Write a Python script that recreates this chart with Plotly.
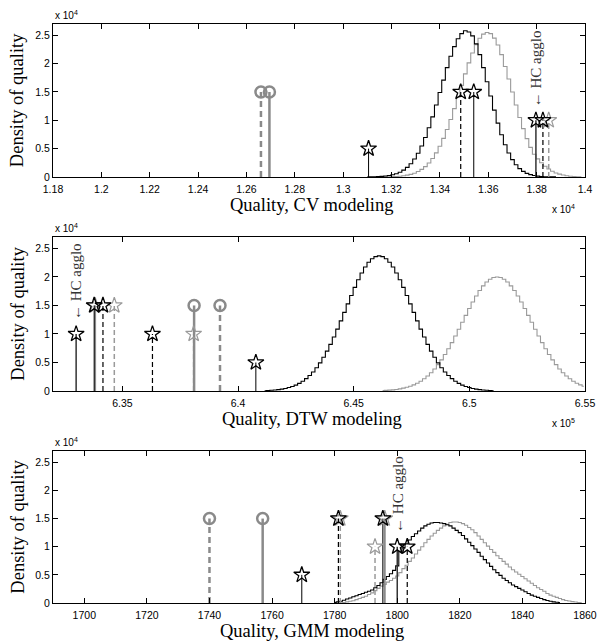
import plotly.graph_objects as go

# ---------------- data ----------------
# Histograms (bin centres start, bin width, heights in units of 1e4)
CV_BLACK_START, CV_BLACK_W = 1.3100, 0.0015
CV_BLACK_H = [0.001, 0.002, 0.004, 0.006, 0.010, 0.016, 0.025, 0.038, 0.057, 0.084,
              0.120, 0.170, 0.234, 0.317, 0.420, 0.547, 0.696, 0.868, 1.06, 1.27,
              1.49, 1.71, 1.93, 2.13, 2.30, 2.44, 2.53, 2.58, 2.56, 2.49,
              2.35, 2.16, 1.93, 1.68, 1.43, 1.18, 0.951, 0.745, 0.569, 0.423,
              0.306, 0.215, 0.148, 0.099, 0.064, 0.041, 0.025, 0.015, 0.009, 0.005,
              0.003, 0.001, 0.001]
CV_GRAY_START, CV_GRAY_W = 1.3160, 0.0015
CV_GRAY_H = [0.001, 0.002, 0.003, 0.006, 0.009, 0.014, 0.021, 0.032, 0.046, 0.067,
             0.096, 0.134, 0.183, 0.247, 0.327, 0.425, 0.543, 0.681, 0.839, 1.015,
             1.207, 1.409, 1.616, 1.820, 2.014, 2.188, 2.335, 2.448, 2.521, 2.55,
             2.53, 2.45, 2.33, 2.16, 1.95, 1.73, 1.50, 1.27, 1.05, 0.853,
             0.676, 0.523, 0.40, 0.32, 0.25, 0.19, 0.14, 0.10, 0.07, 0.05,
             0.035, 0.022, 0.014, 0.008, 0.004, 0.002]

DTW_BLACK_START, DTW_BLACK_W = 6.4115, 0.0015
DTW_BLACK_H = [0.006, 0.009, 0.013, 0.018, 0.025, 0.034, 0.045, 0.061, 0.080, 0.104,
               0.134, 0.172, 0.217, 0.271, 0.334, 0.409, 0.494, 0.591, 0.699, 0.818,
               0.948, 1.085, 1.229, 1.378, 1.527, 1.675, 1.817, 1.950, 2.069, 2.173,
               2.257, 2.319, 2.357, 2.370, 2.357, 2.319, 2.257, 2.173, 2.069, 1.950,
               1.817, 1.675, 1.527, 1.378, 1.229, 1.085, 0.948, 0.818, 0.699, 0.591,
               0.494, 0.409, 0.334, 0.271, 0.217, 0.172, 0.134, 0.104, 0.080, 0.061,
               0.045, 0.034, 0.025, 0.018, 0.013, 0.009, 0.006]
DTW_GRAY_START, DTW_GRAY_W = 6.4625, 0.0015
DTW_GRAY_H = [0.008, 0.011, 0.015, 0.021, 0.028, 0.038, 0.050, 0.065, 0.084, 0.108,
              0.137, 0.172, 0.214, 0.264, 0.321, 0.387, 0.462, 0.546, 0.639, 0.741,
              0.849, 0.964, 1.083, 1.205, 1.327, 1.446, 1.560, 1.667, 1.762, 1.844,
              1.911, 1.960, 1.990, 2.000, 1.990, 1.960, 1.911, 1.844, 1.762, 1.667,
              1.560, 1.446, 1.327, 1.205, 1.083, 0.964, 0.849, 0.741, 0.639, 0.546,
              0.462, 0.387, 0.321, 0.264, 0.214, 0.172, 0.137, 0.108, 0.084]

GMM_BLACK_START, GMM_BLACK_W = 1780, 1.0
GMM_BLACK_H = [0.01, 0.02, 0.03, 0.05, 0.07, 0.09, 0.11, 0.13, 0.15, 0.17,
               0.19, 0.21, 0.23, 0.27, 0.31, 0.36, 0.42, 0.47, 0.52, 0.58,
               0.66, 0.92, 0.98, 1.05, 1.12, 1.18, 1.23, 1.28, 1.33, 1.37,
               1.40, 1.42, 1.43, 1.43, 1.42, 1.41, 1.39, 1.37, 1.33, 1.29,
               1.25, 1.20, 1.14, 1.08, 1.02, 0.96, 0.90, 0.83, 0.77, 0.71,
               0.65, 0.59, 0.54, 0.49, 0.44, 0.40, 0.36, 0.32, 0.29, 0.26,
               0.23, 0.20, 0.17, 0.14, 0.12, 0.10, 0.08, 0.06, 0.045, 0.03,
               0.02, 0.012, 0.006]
GMM_GRAY_START, GMM_GRAY_W = 1782, 1.0
GMM_GRAY_H = [0.005, 0.01, 0.02, 0.03, 0.04, 0.06, 0.08, 0.10, 0.12, 0.15,
              0.18, 0.22, 0.26, 0.30, 0.33, 0.37, 0.40, 0.44, 0.48, 0.54,
              0.61, 0.67, 0.74, 0.80, 0.87, 0.94, 1.00, 1.07, 1.13, 1.19,
              1.24, 1.29, 1.33, 1.37, 1.40, 1.43, 1.44, 1.44, 1.43, 1.41,
              1.38, 1.34, 1.30, 1.25, 1.19, 1.13, 1.07, 1.01, 0.95, 0.90,
              0.84, 0.79, 0.74, 0.69, 0.64, 0.59, 0.55, 0.51, 0.47, 0.43,
              0.39, 0.35, 0.31, 0.27, 0.24, 0.21, 0.17, 0.14, 0.12, 0.10,
              0.08, 0.06, 0.045, 0.035, 0.025, 0.017, 0.01, 0.005]

# Method markers (x in axis units, y in units of 1e4)
CV_CIRC_SOLID_X, CV_CIRC_SOLID_Y = [1.2695], [1.5]
CV_CIRC_DASH_X, CV_CIRC_DASH_Y = [1.2660], [1.5]
CV_STAR_SOLID_X, CV_STAR_SOLID_Y = [1.3105, 1.3540], [0.5, 1.5]
CV_STAR_DASH_X, CV_STAR_DASH_Y = [1.3486, 1.3826], [1.5, 1.0]
CV_GSTAR_DASH_X, CV_GSTAR_DASH_Y = [1.3850], [1.0]
CV_GSTAR_SOLID_X, CV_GSTAR_SOLID_Y = [], []
CV_HC_X, CV_HC_Y = [1.3797], [1.0]

DTW_CIRC_SOLID_X, DTW_CIRC_SOLID_Y = [6.3810], [1.5]
DTW_CIRC_DASH_X, DTW_CIRC_DASH_Y = [6.3922], [1.5]
DTW_STAR_SOLID_X, DTW_STAR_SOLID_Y = [6.3378, 6.4077], [1.5, 0.5]
DTW_STAR_DASH_X, DTW_STAR_DASH_Y = [6.3416, 6.3630], [1.5, 1.0]
DTW_GSTAR_DASH_X, DTW_GSTAR_DASH_Y = [6.3465, 6.3808], [1.5, 1.0]
DTW_GSTAR_SOLID_X, DTW_GSTAR_SOLID_Y = [6.3382], [1.5]
DTW_HC_X, DTW_HC_Y = [6.3300], [1.0]

GMM_CIRC_SOLID_X, GMM_CIRC_SOLID_Y = [1757.0], [1.5]
GMM_CIRC_DASH_X, GMM_CIRC_DASH_Y = [1740.0], [1.5]
GMM_STAR_SOLID_X, GMM_STAR_SOLID_Y = [1769.5, 1795.4], [0.5, 1.5]
GMM_STAR_DASH_X, GMM_STAR_DASH_Y = [1781.2, 1803.2], [1.5, 1.0]
GMM_GSTAR_DASH_X, GMM_GSTAR_DASH_Y = [1781.8, 1792.9], [1.5, 1.0]
GMM_GSTAR_SOLID_X, GMM_GSTAR_SOLID_Y = [1796.0], [1.5]
GMM_HC_X, GMM_HC_Y = [1800.0], [1.0]

# Axis ticks
CV_TICKS = [1.18, 1.20, 1.22, 1.24, 1.26, 1.28, 1.30, 1.32, 1.34, 1.36, 1.38, 1.40]
CV_TICKTEXT = ["1.18", "1.2", "1.22", "1.24", "1.26", "1.28", "1.3", "1.32", "1.34", "1.36", "1.38", "1.4"]
DTW_TICKS = [6.35, 6.40, 6.45, 6.50, 6.55]
DTW_TICKTEXT = ["6.35", "6.4", "6.45", "6.5", "6.55"]
GMM_TICKS = [1700, 1720, 1740, 1760, 1780, 1800, 1820, 1840, 1860]
GMM_TICKTEXT = [str(v) for v in GMM_TICKS]
Y_TICKS = [0, 0.5, 1, 1.5, 2, 2.5]
Y_TICKTEXT = ["0", "0.5", "1", "1.5", "2", "2.5"]
X_TITLES = ["Quality, CV modeling", "Quality, DTW modeling", "Quality, GMM modeling"]
Y_TITLE = "Density of quality"

# ---------------- styles ----------------
BLACK = "#000000"
GRAY = "#8a8a8a"
LGRAY = "#9a9a9a"
SERIF = "Liberation Serif, Times New Roman, serif"
SANS = "Liberation Sans, Arial, sans-serif"

fig = go.Figure()


def add_hist(ax, start, width, heights, color):
    xs = [start + width * i for i in range(len(heights))]
    fig.add_trace(go.Scatter(x=xs, y=heights, mode="lines",
                             line=dict(color=color, width=1.1, shape="hvh"),
                             xaxis="x" + ax, yaxis="y" + ax,
                             hoverinfo="skip", showlegend=False))


def add_stems(ax, xs, ys, color, width, dash):
    X, Y = [], []
    for x, y in zip(xs, ys):
        X += [x, x, None]
        Y += [0, y, None]
    if not X:
        return
    fig.add_trace(go.Scatter(x=X, y=Y, mode="lines",
                             line=dict(color=color, width=width, dash=dash),
                             xaxis="x" + ax, yaxis="y" + ax,
                             hoverinfo="skip", showlegend=False))


def add_marks(ax, xs, ys, symbol, size, color, lw):
    if not xs:
        return
    fig.add_trace(go.Scatter(x=xs, y=ys, mode="markers",
                             marker=dict(symbol=symbol, size=size, color=color,
                                         line=dict(color=color, width=lw)),
                             xaxis="x" + ax, yaxis="y" + ax,
                             hoverinfo="skip", showlegend=False, cliponaxis=False))


panels = [
    ("", CV_BLACK_START, CV_BLACK_W, CV_BLACK_H, CV_GRAY_START, CV_GRAY_W, CV_GRAY_H,
     (CV_CIRC_SOLID_X, CV_CIRC_SOLID_Y), (CV_CIRC_DASH_X, CV_CIRC_DASH_Y),
     (CV_STAR_SOLID_X, CV_STAR_SOLID_Y), (CV_STAR_DASH_X, CV_STAR_DASH_Y),
     (CV_GSTAR_DASH_X, CV_GSTAR_DASH_Y), (CV_GSTAR_SOLID_X, CV_GSTAR_SOLID_Y),
     (CV_HC_X, CV_HC_Y)),
    ("2", DTW_BLACK_START, DTW_BLACK_W, DTW_BLACK_H, DTW_GRAY_START, DTW_GRAY_W, DTW_GRAY_H,
     (DTW_CIRC_SOLID_X, DTW_CIRC_SOLID_Y), (DTW_CIRC_DASH_X, DTW_CIRC_DASH_Y),
     (DTW_STAR_SOLID_X, DTW_STAR_SOLID_Y), (DTW_STAR_DASH_X, DTW_STAR_DASH_Y),
     (DTW_GSTAR_DASH_X, DTW_GSTAR_DASH_Y), (DTW_GSTAR_SOLID_X, DTW_GSTAR_SOLID_Y),
     (DTW_HC_X, DTW_HC_Y)),
    ("3", GMM_BLACK_START, GMM_BLACK_W, GMM_BLACK_H, GMM_GRAY_START, GMM_GRAY_W, GMM_GRAY_H,
     (GMM_CIRC_SOLID_X, GMM_CIRC_SOLID_Y), (GMM_CIRC_DASH_X, GMM_CIRC_DASH_Y),
     (GMM_STAR_SOLID_X, GMM_STAR_SOLID_Y), (GMM_STAR_DASH_X, GMM_STAR_DASH_Y),
     (GMM_GSTAR_DASH_X, GMM_GSTAR_DASH_Y), (GMM_GSTAR_SOLID_X, GMM_GSTAR_SOLID_Y),
     (GMM_HC_X, GMM_HC_Y)),
]

DASH = "5px,3px"
STAR = 12
for (ax, bs, bw, bh, gs, gw, gh, csol, cdash, ssol, sdash, gdash, gsol, hc) in panels:
    add_hist(ax, gs, gw, gh, LGRAY)
    add_hist(ax, bs, bw, bh, BLACK)
    # stems
    add_stems(ax, *gsol, GRAY, 2.0, "solid")
    add_stems(ax, *gdash, LGRAY, 1.5, DASH)
    add_stems(ax, *csol, GRAY, 2.5, "solid")
    add_stems(ax, *cdash, GRAY, 2.5, "6px,4px")
    add_stems(ax, *ssol, BLACK, 1.0, "solid")
    add_stems(ax, *sdash, BLACK, 1.2, DASH)
    add_stems(ax, *hc, "#333333", 1.5, "solid")
    # markers
    add_marks(ax, *gsol, "star-open", STAR, LGRAY, 1.2)
    add_marks(ax, *gdash, "star-open", STAR, LGRAY, 1.2)
    add_marks(ax, *csol, "circle-open", 11, GRAY, 2.5)
    add_marks(ax, *cdash, "circle-open", 11, GRAY, 2.5)
    add_marks(ax, *ssol, "star-open", STAR, BLACK, 1.3)
    add_marks(ax, *sdash, "star-open", STAR, BLACK, 1.3)
    add_marks(ax, *hc, "star-open", STAR, BLACK, 1.3)

# ---------------- layout ----------------
# The page body has an 8px default margin, so the figure is sized to fit inside it.
DOMAINS = [[0.7358, 1.0], [0.3661, 0.6321], [0.0, 0.2625]]
XRANGES = [[1.18, 1.40], [6.32, 6.55], [1690, 1860]]
XTICKS = [(CV_TICKS, CV_TICKTEXT), (DTW_TICKS, DTW_TICKTEXT), (GMM_TICKS, GMM_TICKTEXT)]
axcommon = dict(showline=True, linecolor="black", linewidth=1, mirror="ticks",
                ticks="inside", ticklen=5, tickwidth=1, tickcolor="black",
                showgrid=False, zeroline=False,
                tickfont=dict(family=SANS, size=10.5, color="black"))
layout = dict(width=601, height=636, paper_bgcolor="white", plot_bgcolor="white",
              margin=dict(l=45, r=14, t=16, b=41), showlegend=False)
annotations = []
for i, suf in enumerate(["", "2", "3"]):
    layout["xaxis" + suf] = dict(axcommon, range=XRANGES[i], anchor="y" + suf,
                                 domain=[0, 1], tickvals=XTICKS[i][0],
                                 ticktext=XTICKS[i][1], ticklabelstandoff=2)
    layout["yaxis" + suf] = dict(axcommon, range=[0, 2.7], anchor="x" + suf,
                                 domain=DOMAINS[i], tickvals=Y_TICKS,
                                 ticktext=Y_TICKTEXT)
    top, bot = DOMAINS[i][1], DOMAINS[i][0]
    annotations.append(dict(text="x 10<sup>4</sup>", x=0, y=top, xref="paper", yref="paper",
                            xanchor="left", yanchor="bottom", yshift=1, showarrow=False,
                            font=dict(family=SANS, size=10, color="black")))
    annotations.append(dict(text=X_TITLES[i], x=0.486, y=bot, xref="paper", yref="paper",
                            xanchor="center", yanchor="middle", yshift=-28, showarrow=False,
                            font=dict(family=SERIF, size=18.5, color="black")))
    annotations.append(dict(text=Y_TITLE, x=-0.0664, y=(top + bot) / 2, xref="paper",
                            yref="paper", xanchor="center", yanchor="middle", textangle=-90,
                            showarrow=False, font=dict(family=SERIF, size=18.5, color="black")))

# exponent labels bottom-right
for suf, txt in [("", "x 10<sup>4</sup>"), ("2", "x 10<sup>5</sup>")]:
    bot = DOMAINS[0 if suf == "" else 1][0]
    annotations.append(dict(text=txt, x=0.985, y=bot, xref="paper", yref="paper",
                            xanchor="right", yanchor="middle", yshift=-32, showarrow=False,
                            font=dict(family=SANS, size=10, color="black")))

# HC agglo labels
for suf, (hx, hy) in [("", (CV_HC_X, CV_HC_Y)), ("2", (DTW_HC_X, DTW_HC_Y)),
                      ("3", (GMM_HC_X, GMM_HC_Y))]:
    annotations.append(dict(text="\u2190 HC agglo", x=hx[0], y=hy[0],
                            xref="x" + suf, yref="y" + suf, xanchor="center",
                            yanchor="middle", yshift=52, textangle=-90, showarrow=False,
                            font=dict(family=SERIF, size=15, color="#333333")))

layout["annotations"] = annotations
fig.update_layout(**layout)
fig.write_html("out.html")
